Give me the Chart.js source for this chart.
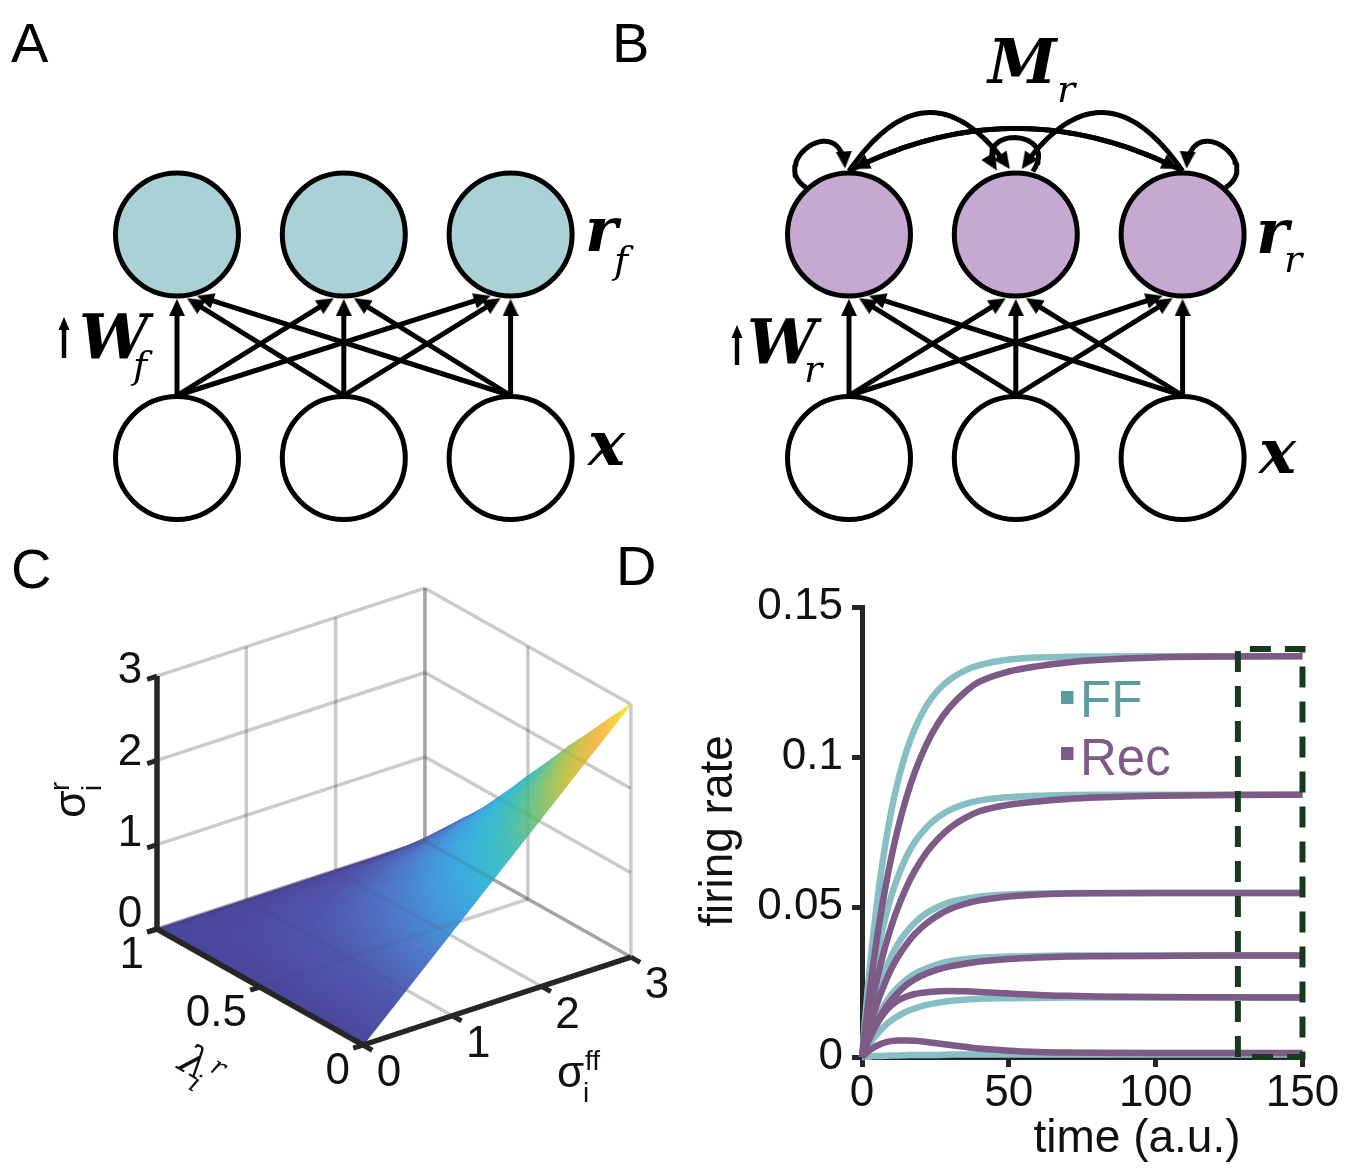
<!DOCTYPE html>
<html>
<head>
<meta charset="utf-8">
<title>Feed-forward and recurrent networks</title>
<script src="https://cdn.jsdelivr.net/npm/chart.js@4.4.1/dist/chart.umd.min.js"></script>
<style>
  html, body { margin: 0; padding: 0; background: #ffffff; }
  #figure { position: relative; width: 1347px; height: 1169px; overflow: hidden; background: #ffffff; }
  #figure canvas { position: absolute; left: 0; top: 0; }
</style>
</head>
<body>
<div id="figure">
  <canvas id="panelA" width="1347" height="1169"></canvas>
  <canvas id="panelB" width="1347" height="1169"></canvas>
  <canvas id="panelC" width="1347" height="1169"></canvas>
  <canvas id="panelD" width="1347" height="1169"></canvas>
</div>
<script>
// ===================== data =====================
// A, B: three input units (x) feeding three output units (r)
const nodeColumns = [0, 1, 2];
const inputLayer = 0;
const outputLayer = 1;
const ffConnections = [[0,0],[0,1],[0,2],[1,0],[1,1],[1,2],[2,0],[2,1],[2,2]]; // [input, output]
const recConnections = [[0,2],[2,0],[0,1],[2,1]];                              // [from, to] inside r_r
const selfConnections = [0, 1, 2];

// C: sigma_i^r over lambda_i^r (rows) and sigma_i^ff (columns)
const lambdaGrid = [0, 0.1, 0.2, 0.3, 0.4, 0.5, 0.6, 0.7, 0.8, 0.85, 0.9, 0.95, 1];
const sigmaFFGrid = [0, 0.5, 1, 1.5, 2, 2.5, 3];
const sigmaRTable = [
  [0, 0.50, 1.00, 1.50, 2.00, 2.50, 3.00],
  [0, 0.45, 0.90, 1.35, 1.80, 2.25, 2.70],
  [0, 0.40, 0.80, 1.20, 1.59, 1.99, 2.39],
  [0, 0.35, 0.70, 1.04, 1.39, 1.74, 2.09],
  [0, 0.30, 0.59, 0.89, 1.18, 1.48, 1.77],
  [0, 0.24, 0.49, 0.73, 0.97, 1.21, 1.46],
  [0, 0.19, 0.38, 0.57, 0.76, 0.95, 1.14],
  [0, 0.14, 0.28, 0.41, 0.55, 0.69, 0.83],
  [0, 0.09, 0.19, 0.28, 0.37, 0.46, 0.56],
  [0, 0.07, 0.14, 0.20, 0.27, 0.34, 0.41],
  [0, 0.04, 0.09, 0.13, 0.18, 0.22, 0.26],
  [0, 0.02, 0.04, 0.06, 0.08, 0.11, 0.13],
  [0, 0.00, 0.00, 0.00, 0.00, 0.00, 0.00]
];
const sigmaRTicks = [0, 1, 2, 3];
const lambdaTicks = [0, 0.5, 1];
const sigmaFFTicks = [0, 1, 2, 3];

// D: firing rate of six units, feed-forward (FF) vs recurrent (Rec)
const timePoints = [0, 2, 4, 6, 8, 10, 12, 15, 18, 22, 26, 30, 35, 40, 50, 60, 70, 80, 100, 125, 150];
const ffRate1 = [0, 0.0232, 0.0423, 0.0582, 0.0712, 0.0821, 0.0910, 0.1016, 0.1095, 0.1172, 0.1224, 0.1259, 0.1288, 0.1306, 0.1325, 0.1332, 0.1334, 0.1335, 0.1336, 0.1336, 0.1336];
const ffRate2 = [0, 0.0152, 0.0277, 0.0380, 0.0466, 0.0537, 0.0595, 0.0665, 0.0717, 0.0766, 0.0800, 0.0824, 0.0843, 0.0855, 0.0866, 0.0871, 0.0873, 0.0874, 0.0874, 0.0874, 0.0874];
const ffRate3 = [0, 0.0095, 0.0173, 0.0238, 0.0292, 0.0336, 0.0373, 0.0416, 0.0448, 0.0480, 0.0501, 0.0516, 0.0527, 0.0535, 0.0542, 0.0545, 0.0546, 0.0547, 0.0547, 0.0547, 0.0547];
const ffRate4 = [0, 0.0059, 0.0107, 0.0147, 0.0180, 0.0208, 0.0230, 0.0257, 0.0277, 0.0296, 0.0310, 0.0319, 0.0326, 0.0331, 0.0335, 0.0337, 0.0338, 0.0338, 0.0338, 0.0338, 0.0338];
const ffRate5 = [0, 0.0034, 0.0063, 0.0086, 0.0106, 0.0122, 0.0135, 0.0151, 0.0162, 0.0174, 0.0181, 0.0187, 0.0191, 0.0194, 0.0196, 0.0197, 0.0198, 0.0198, 0.0198, 0.0198, 0.0198];
const ffRate6 = [0, 0.0001, 0.0003, 0.0003, 0.0004, 0.0005, 0.0005, 0.0006, 0.0007, 0.0007, 0.0007, 0.0008, 0.0008, 0.0008, 0.0008, 0.0008, 0.0008, 0.0008, 0.0008, 0.0008, 0.0008];
const recRate1 = [0, 0.0172, 0.0322, 0.0453, 0.0567, 0.0666, 0.0752, 0.0861, 0.0950, 0.1043, 0.1114, 0.1167, 0.1216, 0.1251, 0.1285, 0.1303, 0.1315, 0.1323, 0.1332, 0.1335, 0.1336];
const recRate2 = [0, 0.0113, 0.0211, 0.0296, 0.0371, 0.0436, 0.0492, 0.0563, 0.0621, 0.0682, 0.0728, 0.0764, 0.0796, 0.0819, 0.0841, 0.0852, 0.0860, 0.0865, 0.0871, 0.0873, 0.0874];
const recRate3 = [0, 0.0078, 0.0145, 0.0202, 0.0251, 0.0294, 0.0330, 0.0374, 0.0410, 0.0446, 0.0473, 0.0493, 0.0510, 0.0522, 0.0535, 0.0542, 0.0545, 0.0546, 0.0547, 0.0547, 0.0547];
const recRate4 = [0, 0.0052, 0.0096, 0.0133, 0.0164, 0.0190, 0.0212, 0.0239, 0.0259, 0.0278, 0.0292, 0.0302, 0.0311, 0.0318, 0.0327, 0.0332, 0.0335, 0.0336, 0.0337, 0.0338, 0.0338];
const recRate5 = [0, 0.0050, 0.0090, 0.0125, 0.0152, 0.0172, 0.0187, 0.0201, 0.0210, 0.0216, 0.0219, 0.0220, 0.0219, 0.0217, 0.0212, 0.0207, 0.0204, 0.0202, 0.0200, 0.0199, 0.0198];
const recRate6 = [0, 0.0018, 0.0032, 0.0042, 0.0049, 0.0053, 0.0055, 0.0055, 0.0054, 0.0050, 0.0045, 0.0040, 0.0034, 0.0028, 0.0021, 0.0017, 0.0015, 0.0014, 0.0013, 0.0013, 0.0013];
const timeTicks = [0, 50, 100, 150];
const rateTicks = [0, 0.05, 0.1, 0.15];
const windowTime = [128, 150];   // dashed steady-state window
const windowRate = [0, 0.136];

// ===================== shared helpers =====================
const PAGE_W = 1347, PAGE_H = 1169;
const SANS = "'Liberation Sans', Arial, sans-serif";
const MATH = "'DejaVu Serif', serif";

function unit(dx, dy) { const n = Math.hypot(dx, dy) || 1; return [dx / n, dy / n]; }
function quadBez(p0, c, p1, t) {
  const u = 1 - t;
  return [u*u*p0[0] + 2*u*t*c[0] + t*t*p1[0], u*u*p0[1] + 2*u*t*c[1] + t*t*p1[1]];
}
function cubicBez(p0, c1, c2, p1, t) {
  const u = 1 - t, a = u*u*u, b = 3*u*u*t, c = 3*u*t*t, d = t*t*t;
  return [a*p0[0] + b*c1[0] + c*c2[0] + d*p1[0], a*p0[1] + b*c1[1] + c*c2[1] + d*p1[1]];
}
function baseOptions(xMin, xMax, yMin, yMax, reverseY, extraPlugins) {
  return {
    type: 'line',
    options: {
      responsive: false, animation: false, devicePixelRatio: 1, events: [],
      layout: { padding: 0, autoPadding: false },
      plugins: { legend: { display: false }, tooltip: { enabled: false } },
      scales: {
        x: { type: 'linear', min: xMin, max: xMax, display: false },
        y: { type: 'linear', min: yMin, max: yMax, reverse: reverseY, display: false }
      }
    },
    plugins: extraPlugins
  };
}
function textPlugin(id, drawFn) { return { id, afterDraw(chart) { const ctx = chart.ctx; ctx.save(); drawFn(ctx, chart); ctx.restore(); } }; }
function put(ctx, text, x, y, font, color, align, baseline) {
  ctx.font = font; ctx.fillStyle = color || '#000';
  ctx.textAlign = align || 'left'; ctx.textBaseline = baseline || 'alphabetic';
  ctx.fillText(text, x, y);
}

// arrowhead sprite (tip at the top centre)
const HEAD_W = 16, HEAD_H = 17;
const arrowSprite = (() => {
  const c = document.createElement('canvas'); c.width = HEAD_W; c.height = HEAD_H;
  const g = c.getContext('2d'); g.fillStyle = '#000';
  g.beginPath(); g.moveTo(HEAD_W / 2, 0); g.lineTo(HEAD_W, HEAD_H); g.lineTo(0, HEAD_H); g.closePath(); g.fill();
  return c;
})();
const HEAD_BACK = 12;

// ===================== A, B: network diagrams =====================
const DIAG = { colStep: 166.8, rowStep: 223.5, inputRowPx: 458, drawR: 61.5, edgeR: 64.5 };
const LOOP_SHAPES = {
  0: [[-43, -47], [-82, -72], [-8, -126], [-4, -66]],
  1: [[17, -63], [46, -106], [-46, -110], [-19, -64]],
  2: [[43, -47], [82, -72], [8, -126], [4, -66]]
};

function buildDiagram(canvasId, col0Px, outFill, recurrent, labelDraw) {
  const { colStep, rowStep, inputRowPx } = DIAG;
  const toData = (px, py) => ({ x: (px - col0Px) / colStep, y: (inputRowPx - py) / rowStep });
  const centerPx = (col, layer) => [col0Px + col * colStep, inputRowPx - layer * rowStep];
  const datasets = [];
  const heads = [], headRot = [];
  const addHead = (tip, dir) => {
    heads.push(toData(tip[0] - dir[0] * HEAD_H / 2, tip[1] - dir[1] * HEAD_H / 2));
    headRot.push(Math.atan2(dir[0], -dir[1]) * 180 / Math.PI);
  };
  const addPath = (pts) => datasets.push({
    data: pts.map(p => toData(p[0], p[1])), borderColor: '#000', borderWidth: 5,
    pointRadius: 0, showLine: true, fill: false, tension: 0, order: 2,
    borderCapStyle: 'butt', borderJoinStyle: 'round'
  });

  // W: every input unit projects to every output unit
  for (const [src, dst] of ffConnections) {
    const [sx, sy] = centerPx(nodeColumns[src], inputLayer);
    const [tx, ty] = centerPx(nodeColumns[dst], outputLayer);
    const start = [sx, sy - DIAG.edgeR + 2];
    const th = (src - dst) * 9 * Math.PI / 180;
    const tip = [tx + DIAG.edgeR * Math.sin(th), ty + DIAG.edgeR * Math.cos(th)];
    const dir = unit(tip[0] - start[0], tip[1] - start[1]);
    addPath([start, [tip[0] - dir[0] * HEAD_BACK, tip[1] - dir[1] * HEAD_BACK]]);
    addHead(tip, dir);
  }

  if (recurrent) {
    // M: lateral arcs between output units
    for (const [from, to] of recConnections) {
      const [fx, fy] = centerPx(nodeColumns[from], outputLayer);
      const [tx, ty] = centerPx(nodeColumns[to], outputLayer);
      const span = Math.abs(to - from), sgn = Math.sign(to - from);
      const p0 = [fx, fy - DIAG.edgeR + 1];
      const tip = [tx - sgn * (span === 2 ? 4 : 6), ty - DIAG.edgeR - 1];
      const peakY = fy - (span === 2 ? 106 : 122);
      const c = [(p0[0] + tip[0]) / 2, (4 * peakY - p0[1] - tip[1]) / 2];
      const dir = unit(tip[0] - c[0], tip[1] - c[1]);
      const tEnd = 1 - HEAD_BACK / (2 * Math.hypot(tip[0] - c[0], tip[1] - c[1]));
      const pts = [];
      for (let i = 0; i <= 48; i++) pts.push(quadBez(p0, c, tip, tEnd * i / 48));
      addPath(pts);
      addHead(tip, dir);
    }
    // M: self connections
    for (const n of selfConnections) {
      const [cx, cy] = centerPx(nodeColumns[n], outputLayer);
      const [a, b, c, d] = LOOP_SHAPES[n].map(p => [cx + p[0], cy + p[1]]);
      const dir = unit(d[0] - c[0], d[1] - c[1]);
      const tEnd = 1 - HEAD_BACK / (3 * Math.hypot(d[0] - c[0], d[1] - c[1]));
      const pts = [];
      for (let i = 0; i <= 40; i++) pts.push(cubicBez(a, b, c, d, tEnd * i / 40));
      addPath(pts);
      addHead(d, dir);
    }
  }

  datasets.push({
    data: heads, showLine: false, pointStyle: arrowSprite, pointRadius: 9,
    pointRotation: ctx => headRot[ctx.dataIndex] || 0, order: 1
  });
  datasets.push({
    data: nodeColumns.map(c => ({ x: c, y: outputLayer })), showLine: false,
    pointStyle: 'circle', pointRadius: DIAG.drawR, pointBorderWidth: 5,
    pointBackgroundColor: outFill, pointBorderColor: '#000', order: 3
  });
  datasets.push({
    data: nodeColumns.map(c => ({ x: c, y: inputLayer })), showLine: false,
    pointStyle: 'circle', pointRadius: DIAG.drawR, pointBorderWidth: 5,
    pointBackgroundColor: '#ffffff', pointBorderColor: '#000', order: 3
  });

  const cfg = baseOptions(-col0Px / colStep, (PAGE_W - col0Px) / colStep,
    -(PAGE_H - inputRowPx) / rowStep, inputRowPx / rowStep, false, [textPlugin('labels' + canvasId, labelDraw)]);
  cfg.data = { datasets };
  return new Chart(document.getElementById(canvasId), cfg);
}

function smallUpArrow(ctx, x, yTop, yBottom) {
  ctx.fillStyle = '#000';
  ctx.fillRect(x - 2.2, yTop + 10, 4.4, yBottom - yTop - 10);
  ctx.beginPath(); ctx.moveTo(x, yTop); ctx.lineTo(x + 5.5, yTop + 13); ctx.lineTo(x - 5.5, yTop + 13); ctx.closePath(); ctx.fill();
}
const BIG = `bold italic 62px ${MATH}`;
const SUB = `italic 38px ${MATH}`;

buildDiagram('panelA', 177, '#aad2d6', false, (ctx) => {
  put(ctx, 'A', 11, 62, `56px ${SANS}`);
  put(ctx, 'r', 585, 251, BIG); put(ctx, 'f', 614, 273, SUB);
  put(ctx, 'x', 588, 465, BIG);
  put(ctx, 'W', 79, 358, BIG); put(ctx, 'f', 133, 378, SUB);
  smallUpArrow(ctx, 64, 317, 358);
});
buildDiagram('panelB', 849, '#c6a9d0', true, (ctx) => {
  put(ctx, 'B', 612, 62, `56px ${SANS}`);
  put(ctx, 'M', 988, 83, BIG); put(ctx, 'r', 1057, 102, SUB);
  put(ctx, 'r', 1256, 253, BIG); put(ctx, 'r', 1284, 272, SUB);
  put(ctx, 'x', 1259, 473, BIG);
  put(ctx, 'W', 747, 363, BIG); put(ctx, 'r', 804, 382, SUB);
  smallUpArrow(ctx, 737, 325, 365);
});

// ===================== C: 3-D surface =====================
const VIEW = { origin: [363, 1045], sig: [89.3, -29.3], lam: [-206, -116], z: [0, -84.3] };
function proj(s, l, z) {
  return { x: VIEW.origin[0] + s * VIEW.sig[0] + l * VIEW.lam[0] + z * VIEW.z[0],
           y: VIEW.origin[1] + s * VIEW.sig[1] + l * VIEW.lam[1] + z * VIEW.z[1] };
}
const SURF_STOPS = [
  [0.00, [74, 70, 156]], [0.12, [80, 86, 172]], [0.25, [78, 120, 200]], [0.37, [66, 160, 224]],
  [0.47, [56, 184, 218]], [0.57, [72, 192, 178]], [0.67, [132, 198, 118]], [0.77, [204, 196, 70]],
  [0.87, [246, 184, 80]], [1.00, [246, 232, 56]]
];
const Z_MAX = sigmaRTicks[sigmaRTicks.length - 1];
function surfColor(z) {
  const f = Math.max(0, Math.min(1, z / Z_MAX));
  for (let i = 1; i < SURF_STOPS.length; i++) {
    const [f1, c1] = SURF_STOPS[i];
    if (f <= f1) {
      const [f0, c0] = SURF_STOPS[i - 1];
      const t = (f - f0) / (f1 - f0 || 1);
      return `rgb(${c0.map((v, k) => Math.round(v + (c1[k] - v) * t)).join(',')})`;
    }
  }
  return `rgb(${SURF_STOPS[SURF_STOPS.length - 1][1].join(',')})`;
}
function cellPaint(chart, corners) {
  const xs = chart.scales.x, ys = chart.scales.y;
  const zs = corners.map(c => c.z);
  const zlo = Math.min(...zs), zhi = Math.max(...zs);
  if (!xs || !ys || zhi - zlo < 1e-4) return surfColor((zlo + zhi) / 2);
  const P = corners.map(c => { const p = proj(c.s, c.l, c.z); return [xs.getPixelForValue(p.x), ys.getPixelForValue(p.y), c.z]; });
  if (!P.every(p => isFinite(p[0]) && isFinite(p[1]))) return surfColor((zlo + zhi) / 2);
  const [p0, p1, , p3] = P;
  const dX1 = p1[0] - p0[0], dY1 = p1[1] - p0[1], dz1 = p1[2] - p0[2];
  const dX2 = p3[0] - p0[0], dY2 = p3[1] - p0[1], dz2 = p3[2] - p0[2];
  const det = dX1 * dY2 - dX2 * dY1;
  if (Math.abs(det) < 1e-6) return surfColor((zlo + zhi) / 2);
  const a = (dz1 * dY2 - dz2 * dY1) / det, b = (dX1 * dz2 - dX2 * dz1) / det;
  const g2 = a * a + b * b;
  if (g2 < 1e-12) return surfColor((zlo + zhi) / 2);
  const A = [p0[0] - (p0[2] - zlo) * a / g2, p0[1] - (p0[2] - zlo) * b / g2];
  const B = [A[0] + (zhi - zlo) * a / g2, A[1] + (zhi - zlo) * b / g2];
  const grad = chart.ctx.createLinearGradient(A[0], A[1], B[0], B[1]);
  for (let k = 0; k <= 4; k++) grad.addColorStop(k / 4, surfColor(zlo + (zhi - zlo) * k / 4));
  return grad;
}

(function buildSurface() {
  const datasets = [];
  const sMax = sigmaFFTicks[sigmaFFTicks.length - 1];
  const seg = (a, b, color, width, order) => ({
    data: [proj(...a), proj(...b)], borderColor: color, borderWidth: width, pointRadius: 0,
    showLine: true, fill: false, tension: 0, borderCapStyle: 'butt', order
  });
  const gridSegs = [];
  for (const s of sigmaFFTicks) gridSegs.push([[s, 1, 0], [s, 1, Z_MAX]]);
  for (const z of sigmaRTicks) gridSegs.push([[0, 1, z], [sMax, 1, z]]);
  for (const l of lambdaTicks) gridSegs.push([[sMax, l, 0], [sMax, l, Z_MAX]]);
  for (const z of sigmaRTicks) gridSegs.push([[sMax, 0, z], [sMax, 1, z]]);
  for (const s of sigmaFFTicks) gridSegs.push([[s, 0, 0], [s, 1, 0]]);
  for (const l of lambdaTicks) gridSegs.push([[0, l, 0], [sMax, l, 0]]);
  for (const [a, b] of gridSegs) datasets.push(seg(a, b, 'rgba(60,60,60,0.21)', 3.5, 10));

  for (let i = 0; i < lambdaGrid.length - 1; i++) {
    for (let j = 0; j < sigmaFFGrid.length - 1; j++) {
      const corners = [[j, i], [j + 1, i], [j + 1, i + 1], [j, i + 1]].map(([jj, ii]) =>
        ({ s: sigmaFFGrid[jj], l: lambdaGrid[ii], z: sigmaRTable[ii][jj] }));
      const ring = corners.concat([corners[0]]);
      datasets.push({
        data: ring.map(c => proj(c.s, c.l, c.z)), showLine: true, fill: 'shape', tension: 0,
        pointRadius: 0, borderWidth: 1.2, borderJoinStyle: 'round',
        backgroundColor: ctx => cellPaint(ctx.chart, corners),
        borderColor: ctx => cellPaint(ctx.chart, corners), order: 6
      });
    }
  }
  // faint grid seen through the surface
  for (const [a, b] of gridSegs) datasets.push(seg(a, b, 'rgba(60,60,60,0.07)', 3.5, 4));

  // black axes and ticks
  const AX = '#262626';
  datasets.push(seg([0, 1, 0], [0, 1, Z_MAX], AX, 5.5, 2));
  datasets.push(seg([0, 0, 0], [0, 1, 0], AX, 5.5, 2));
  datasets.push(seg([0, 0, 0], [sMax, 0, 0], AX, 5.5, 2));
  for (const z of sigmaRTicks) datasets.push(seg([0, 1, z], [-0.11, 1, z], AX, 5, 2));
  for (const l of lambdaTicks) datasets.push(seg([0, l, 0], [-0.11, l, 0], AX, 5, 2));
  for (const s of sigmaFFTicks) datasets.push(seg([s, 0, 0], [s, -0.045, 0], AX, 5, 2));

  const cfg = baseOptions(0, PAGE_W, 0, PAGE_H, true, [textPlugin('labelsC', (ctx, chart) => {
    const xs = chart.scales.x, ys = chart.scales.y;
    const px = (s, l, z) => { const p = proj(s, l, z); return [xs.getPixelForValue(p.x), ys.getPixelForValue(p.y)]; };
    const TICK = `44px ${SANS}`, INK = '#111';
    put(ctx, 'C', 11, 588, `56px ${SANS}`);
    for (const z of sigmaRTicks) { const [x, y] = px(0, 1, z); put(ctx, String(z), x - 27, y - 14 + 3 * z, TICK, INK, 'center', 'middle'); }
    for (const l of lambdaTicks) { const [x, y] = px(0, l, 0); put(ctx, String(l), x - 13, y + 27, TICK, INK, 'right', 'middle'); }
    for (const s of sigmaFFTicks) { const [x, y] = px(s, 0, 0); put(ctx, String(s), x + 26, y + 29, TICK, INK, 'center', 'middle'); }
    // sigma_i^ff
    put(ctx, 'σ', 557, 1087, `44px ${SANS}`, INK);
    put(ctx, 'ff', 585, 1070, `28px ${SANS}`, INK);
    put(ctx, 'i', 583, 1102, `28px ${SANS}`, INK);
    // sigma_i^r (vertical)
    ctx.save(); ctx.translate(85, 818); ctx.rotate(-Math.PI / 2);
    put(ctx, 'σ', 0, 0, `45px ${SANS}`, INK);
    put(ctx, 'r', 27, -16, `28px ${SANS}`, INK);
    put(ctx, 'i', 27, 16, `28px ${SANS}`, INK);
    ctx.restore();
    // lambda_i^r (along the lambda axis)
    ctx.save(); ctx.translate(176, 1068); ctx.rotate(Math.PI / 6);
    put(ctx, 'λ', 0, 0, `italic 42px ${MATH}`, INK);
    put(ctx, 'r', 30, -14, `italic 26px ${MATH}`, INK);
    put(ctx, 'i', 20, 12, `italic 26px ${MATH}`, INK);
    ctx.restore();
  })]);
  cfg.data = { datasets };
  new Chart(document.getElementById('panelC'), cfg);
})();

// ===================== D: firing-rate time courses =====================
(function buildTimecourse() {
  const FF_COLOR = '#88bfc5', REC_COLOR = '#7e5a86';
  const toXY = arr => arr.map((v, i) => ({ x: timePoints[i], y: v }));
  const line = (arr, color, order) => ({
    data: toXY(arr), borderColor: color, borderWidth: 6.5, pointRadius: 0, fill: false,
    cubicInterpolationMode: 'monotone', borderCapStyle: 'butt', order, clip: 10
  });
  const ffSeries = [ffRate1, ffRate2, ffRate3, ffRate4, ffRate5, ffRate6];
  const recSeries = [recRate1, recRate2, recRate3, recRate4, recRate5, recRate6];
  const box = [
    { x: windowTime[0], y: windowRate[0] }, { x: windowTime[0], y: windowRate[1] },
    { x: windowTime[1], y: windowRate[1] }, { x: windowTime[1], y: windowRate[0] },
    { x: windowTime[0], y: windowRate[0] }
  ];
  const datasets = [
    ...ffSeries.map(s => line(s, FF_COLOR, 2)),
    ...recSeries.map(s => line(s, REC_COLOR, 1)),
    { data: box, borderColor: '#163b1c', borderWidth: 6, borderDash: [21, 14], pointRadius: 0,
      tension: 0, fill: false, order: 0, clip: 10, borderCapStyle: 'butt' }
  ];
  const AXC = '#262626';
  new Chart(document.getElementById('panelD'), {
    type: 'line',
    data: { datasets },
    options: {
      responsive: false, animation: false, devicePixelRatio: 1, events: [],
      layout: { padding: { left: 702, right: 44.5, top: 607, bottom: 12 }, autoPadding: false },
      plugins: { legend: { display: false }, tooltip: { enabled: false } },
      scales: {
        x: {
          type: 'linear', min: timeTicks[0], max: timeTicks[timeTicks.length - 1],
          afterFit: s => { s.height = 100; },
          afterBuildTicks: s => { s.ticks = timeTicks.map(v => ({ value: v })); },
          grid: { drawOnChartArea: false, drawTicks: true, tickLength: 10, tickWidth: 5, tickColor: AXC },
          border: { display: true, width: 5, color: AXC },
          ticks: { color: '#111', font: { family: SANS, size: 44 }, padding: 0, maxRotation: 0, autoSkip: false }
        },
        y: {
          type: 'linear', min: rateTicks[0], max: rateTicks[rateTicks.length - 1],
          afterFit: s => { s.width = 160; },
          afterBuildTicks: s => { s.ticks = rateTicks.map(v => ({ value: v })); },
          grid: { drawOnChartArea: false, drawTicks: true, tickLength: 10, tickWidth: 5, tickColor: AXC },
          border: { display: true, width: 5, color: AXC },
          ticks: { color: '#111', font: { family: SANS, size: 44 }, padding: 9,
                   callback: v => String(Math.round(v * 100) / 100) }
        }
      }
    },
    plugins: [textPlugin('labelsD', (ctx) => {
      put(ctx, 'D', 616, 585, `56px ${SANS}`);
      put(ctx, 'time (a.u.)', 1137, 1152, `46px ${SANS}`, '#111', 'center');
      ctx.save(); ctx.translate(732, 831); ctx.rotate(-Math.PI / 2);
      put(ctx, 'firing rate', 0, 0, `46px ${SANS}`, '#111', 'center');
      ctx.restore();
      // legend
      ctx.fillStyle = '#5b9ca2'; ctx.fillRect(1061, 691, 12.5, 13);
      put(ctx, 'FF', 1080, 717, `51px ${SANS}`, '#5b9ca2');
      ctx.fillStyle = REC_COLOR; ctx.fillRect(1061, 747, 12.5, 13);
      put(ctx, 'Rec', 1080, 775, `51px ${SANS}`, REC_COLOR);
    })]
  });
})();
</script>
</body>
</html>
